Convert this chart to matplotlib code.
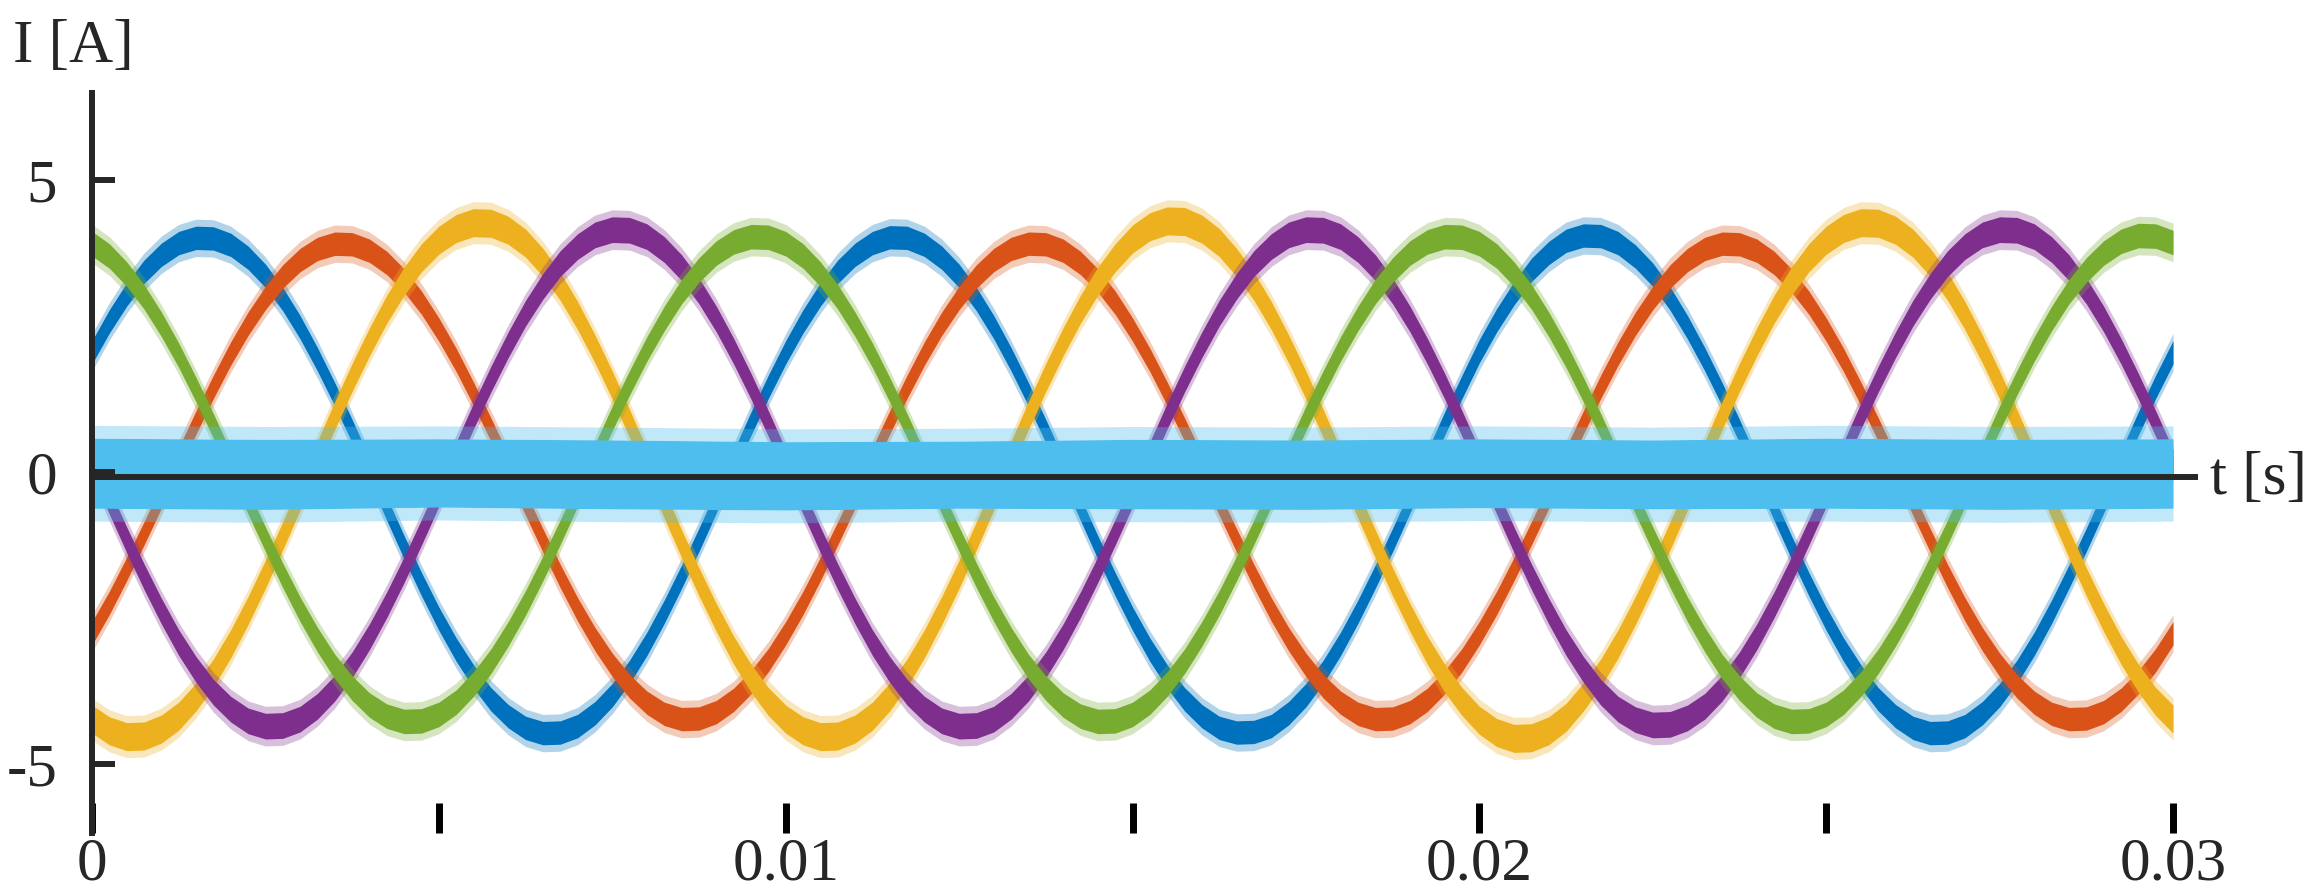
import numpy as np
import matplotlib
matplotlib.use("Agg")
import matplotlib.pyplot as plt

plt.rcParams["font.family"] = ["Liberation Serif", "DejaVu Serif"]

# sample times (s), one point every 0.25 ms
t = np.linspace(0, 0.03, 121)

# phase currents (A), centre of the noisy band
i_a = [2.05, 2.58, 3.04, 3.43, 3.72, 3.92, 4.01, 4.00, 3.89, 3.67, 3.36, 2.96, 2.48, 1.93, 1.33, 0.70, 0.04, -0.63, -1.29, -1.92,
       -2.51, -3.04, -3.50, -3.89, -4.18, -4.38, -4.47, -4.46, -4.35, -4.13, -3.82, -3.42, -2.94, -2.39, -1.79, -1.16, -0.50, 0.17, 0.83, 1.46,
       2.05, 2.58, 3.04, 3.43, 3.72, 3.92, 4.02, 4.01, 3.89, 3.67, 3.36, 2.96, 2.48, 1.93, 1.33, 0.70, 0.04, -0.63, -1.29, -1.92,
       -2.51, -3.04, -3.50, -3.89, -4.18, -4.38, -4.46, -4.45, -4.35, -4.13, -3.82, -3.42, -2.94, -2.39, -1.79, -1.16, -0.50, 0.17, 0.83, 1.46,
       2.07, 2.60, 3.06, 3.46, 3.75, 3.96, 4.05, 4.04, 3.92, 3.69, 3.38, 2.97, 2.48, 1.93, 1.33, 0.70, 0.04, -0.63, -1.29, -1.92,
       -2.51, -3.04, -3.50, -3.89, -4.18, -4.38, -4.47, -4.46, -4.35, -4.13, -3.82, -3.42, -2.94, -2.39, -1.79, -1.16, -0.50, 0.17, 0.83, 1.46,
       2.05]
i_b = [-2.76, -2.24, -1.66, -1.05, -0.42, 0.22, 0.85, 1.46, 2.03, 2.54, 2.98, 3.35, 3.63, 3.82, 3.91, 3.90, 3.79, 3.58, 3.28, 2.90,
       2.44, 1.92, 1.34, 0.73, 0.10, -0.54, -1.17, -1.78, -2.35, -2.86, -3.30, -3.67, -3.95, -4.14, -4.23, -4.22, -4.11, -3.90, -3.60, -3.22,
       -2.76, -2.24, -1.66, -1.05, -0.42, 0.22, 0.85, 1.46, 2.03, 2.54, 2.98, 3.35, 3.63, 3.82, 3.91, 3.90, 3.79, 3.58, 3.28, 2.90,
       2.44, 1.92, 1.34, 0.73, 0.10, -0.54, -1.17, -1.78, -2.35, -2.86, -3.30, -3.67, -3.95, -4.14, -4.23, -4.22, -4.11, -3.90, -3.60, -3.22,
       -2.76, -2.24, -1.66, -1.05, -0.42, 0.22, 0.85, 1.46, 2.03, 2.54, 2.98, 3.35, 3.63, 3.82, 3.91, 3.90, 3.79, 3.58, 3.28, 2.90,
       2.44, 1.92, 1.34, 0.73, 0.10, -0.54, -1.17, -1.78, -2.35, -2.86, -3.30, -3.67, -3.95, -4.14, -4.23, -4.22, -4.11, -3.90, -3.60, -3.22,
       -2.76]
i_c = [-4.23, -4.43, -4.53, -4.52, -4.40, -4.18, -3.85, -3.44, -2.94, -2.37, -1.75, -1.09, -0.41, 0.29, 0.97, 1.62, 2.23, 2.79, 3.27, 3.67,
       3.97, 4.17, 4.27, 4.26, 4.14, 3.92, 3.59, 3.18, 2.68, 2.11, 1.49, 0.83, 0.15, -0.55, -1.23, -1.88, -2.49, -3.05, -3.53, -3.93,
       -4.23, -4.43, -4.53, -4.52, -4.40, -4.18, -3.85, -3.44, -2.94, -2.37, -1.75, -1.09, -0.41, 0.29, 0.97, 1.62, 2.23, 2.79, 3.27, 3.67,
       3.99, 4.20, 4.30, 4.29, 4.16, 3.93, 3.59, 3.18, 2.68, 2.11, 1.49, 0.83, 0.15, -0.55, -1.23, -1.88, -2.49, -3.05, -3.53, -3.93,
       -4.25, -4.46, -4.56, -4.55, -4.43, -4.20, -3.85, -3.44, -2.94, -2.37, -1.75, -1.09, -0.41, 0.29, 0.97, 1.62, 2.23, 2.79, 3.27, 3.67,
       3.97, 4.17, 4.27, 4.26, 4.14, 3.92, 3.59, 3.18, 2.68, 2.11, 1.49, 0.83, 0.15, -0.55, -1.23, -1.88, -2.49, -3.05, -3.53, -3.93,
       -4.23]
i_d = [0.17, -0.50, -1.16, -1.79, -2.38, -2.92, -3.38, -3.77, -4.06, -4.26, -4.35, -4.34, -4.23, -4.01, -3.70, -3.30, -2.82, -2.27, -1.67, -1.03,
       -0.37, 0.30, 0.96, 1.59, 2.18, 2.72, 3.18, 3.57, 3.86, 4.06, 4.15, 4.14, 4.03, 3.81, 3.50, 3.10, 2.62, 2.07, 1.47, 0.83,
       0.17, -0.50, -1.16, -1.79, -2.38, -2.92, -3.38, -3.77, -4.06, -4.26, -4.35, -4.34, -4.23, -4.01, -3.70, -3.30, -2.82, -2.27, -1.67, -1.03,
       -0.37, 0.30, 0.96, 1.59, 2.18, 2.72, 3.18, 3.57, 3.86, 4.06, 4.15, 4.14, 4.03, 3.81, 3.50, 3.10, 2.62, 2.07, 1.47, 0.83,
       0.17, -0.50, -1.16, -1.79, -2.38, -2.92, -3.38, -3.77, -4.06, -4.24, -4.33, -4.32, -4.21, -4.01, -3.70, -3.30, -2.82, -2.27, -1.67, -1.03,
       -0.37, 0.30, 0.96, 1.59, 2.18, 2.72, 3.18, 3.57, 3.86, 4.06, 4.15, 4.14, 4.03, 3.81, 3.50, 3.10, 2.62, 2.07, 1.47, 0.83,
       0.17]
i_e = [3.91, 3.70, 3.39, 3.00, 2.53, 2.00, 1.41, 0.79, 0.14, -0.51, -1.15, -1.77, -2.35, -2.87, -3.33, -3.70, -3.99, -4.18, -4.27, -4.26,
       -4.15, -3.94, -3.63, -3.24, -2.77, -2.24, -1.65, -1.03, -0.38, 0.27, 0.92, 1.53, 2.11, 2.63, 3.09, 3.46, 3.75, 3.94, 4.03, 4.02,
       3.91, 3.70, 3.39, 3.00, 2.53, 2.00, 1.41, 0.79, 0.14, -0.51, -1.15, -1.77, -2.35, -2.87, -3.33, -3.70, -3.99, -4.18, -4.27, -4.26,
       -4.15, -3.94, -3.63, -3.24, -2.77, -2.24, -1.65, -1.03, -0.38, 0.27, 0.92, 1.53, 2.11, 2.63, 3.09, 3.46, 3.75, 3.94, 4.03, 4.02,
       3.91, 3.70, 3.39, 3.00, 2.53, 2.00, 1.41, 0.79, 0.14, -0.51, -1.15, -1.77, -2.35, -2.87, -3.33, -3.70, -3.99, -4.18, -4.27, -4.26,
       -4.15, -3.94, -3.63, -3.24, -2.77, -2.24, -1.65, -1.03, -0.38, 0.27, 0.92, 1.53, 2.11, 2.63, 3.09, 3.46, 3.75, 3.95, 4.05, 4.04,
       3.93]
phases = [i_a, i_b, i_c, i_d, i_e]
noise = [0.2, 0.2, 0.24, 0.22, 0.21]  # half width of the dense noise band (A)

# zero-sequence current: envelope of the noisy band
t_zero = np.linspace(0, 0.03, 13)
zero_hi = [0.58, 0.56, 0.57, 0.55, 0.52, 0.53, 0.56, 0.55, 0.57, 0.55, 0.58, 0.56, 0.57]
zero_lo = [-0.62, -0.64, -0.60, -0.63, -0.65, -0.62, -0.63, -0.64, -0.61, -0.63, -0.62, -0.64, -0.62]

colors = ["#0072BD", "#D95319", "#EDB120", "#7E2F8E", "#77AC30"]
cyan = "#4DBEEE"
dark = "#262626"

fig = plt.figure(figsize=(23.15, 8.94), dpi=100)
ax = fig.add_axes([92 / 2315, 1 - 833 / 894, (2198 - 92) / 2315, (833 - 93) / 894])

for y, c, hw in zip(phases, colors, noise):
    y = np.array(y)
    ax.fill_between(t, y - hw - 0.12, y + hw + 0.12, color=c, alpha=0.3, lw=0)
    ax.fill_between(t, y - hw, y + hw, color=c, lw=0)

hi = np.array(zero_hi)
lo = np.array(zero_lo)
ax.fill_between(t_zero, hi, hi + 0.22, color=cyan, alpha=0.35, lw=0)
ax.fill_between(t_zero, lo - 0.22, lo, color=cyan, alpha=0.35, lw=0)
ax.fill_between(t_zero, lo, hi, color=cyan, lw=0)

ax.axhline(-0.086, color=dark, lw=4.3, zorder=5)

ax.set_xlim(0, 0.03036)
ax.set_ylim(-6.18, 6.49)

for s in ["top", "right", "bottom"]:
    ax.spines[s].set_visible(False)
ax.spines["left"].set_linewidth(4.3)
ax.spines["left"].set_color(dark)

ax.set_xticks([0, 0.005, 0.01, 0.015, 0.02, 0.025, 0.03])
ax.set_xticklabels(["0", "", "0.01", "", "0.02", "", "0.03"])
ax.set_yticks([-5, 0, 5])
ax.set_yticklabels(["-5", "0", "5"])
ax.tick_params(axis="x", direction="in", length=21.6, width=5, color="black",
               pad=3, labelsize=44, labelcolor=dark)
ax.tick_params(axis="y", direction="in", length=16.5, width=4.3, color=dark,
               pad=25, labelsize=44, labelcolor=dark)

fig.text(13 / 2315, 1 - 62 / 894, "I [A]", fontsize=44, color=dark, ha="left", va="baseline")
fig.text(2210 / 2315, 1 - 494 / 894, "t [s]", fontsize=44, color=dark, ha="left", va="baseline")

fig.savefig("out.png", dpi=100)
